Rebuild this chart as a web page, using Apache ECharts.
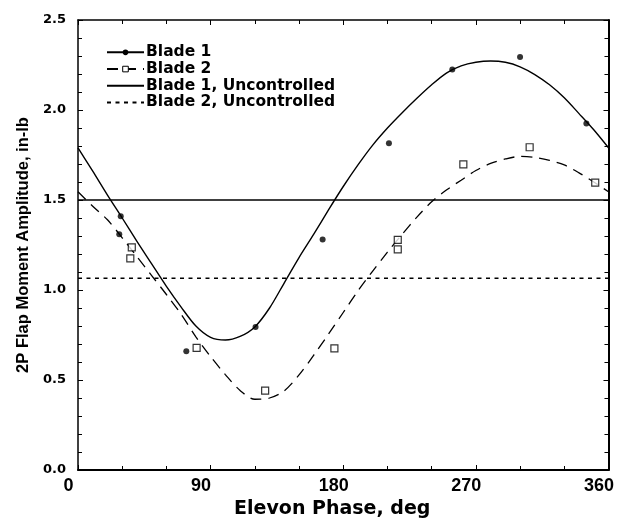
<!DOCTYPE html>
<html>
<head>
<meta charset="utf-8">
<script src="https://cdn.jsdelivr.net/npm/echarts@6/dist/echarts.min.js"></script>
<style>
  html, body { margin: 0; padding: 0; background: #fff; }
  #chart { width: 617px; height: 524px; }
</style>
</head>
<body>
<div id="chart"></div>
<script>
// Phase grid (deg) for the fitted response curves
const phaseGrid = [0, 10, 20, 30, 40, 50, 60, 70, 80, 90, 100, 110, 120, 130, 140, 150, 160, 170, 180,
                   190, 200, 210, 220, 230, 240, 250, 260, 270, 280, 290, 300, 310, 320, 330, 340, 350, 360];

// Fitted 2P flap moment amplitude, in-lb
const blade1Fit = [1.79, 1.66, 1.527, 1.40, 1.27, 1.145, 1.02, 0.905, 0.80, 0.737, 0.722, 0.742, 0.795,
                   0.90, 1.04, 1.18, 1.31, 1.445, 1.575, 1.695, 1.805, 1.90, 1.985, 2.065, 2.14,
                   2.205, 2.245, 2.265, 2.272, 2.265, 2.24, 2.197, 2.14, 2.068, 1.98, 1.89, 1.79];
const blade2Fit = [1.546, 1.465, 1.39, 1.29, 1.185, 1.08, 0.975, 0.865, 0.74, 0.63, 0.53, 0.442, 0.393,
                   0.40, 0.44, 0.528, 0.638, 0.755, 0.875, 0.995, 1.105, 1.21, 1.31, 1.405, 1.49,
                   1.555, 1.61, 1.664, 1.703, 1.728, 1.742, 1.737, 1.72, 1.695, 1.651, 1.60, 1.546];

// Measured points
const blade1Phase = [29, 28, 73.5, 120.5, 166, 211, 254, 300, 345];
const blade1Amp   = [1.41, 1.31, 0.66, 0.795, 1.28, 1.815, 2.225, 2.295, 1.925];
const blade2Phase = [36.5, 35.5, 80.5, 127, 174, 217, 217, 261.5, 306.5, 351];
const blade2Amp   = [1.237, 1.176, 0.678, 0.441, 0.676, 1.278, 1.226, 1.698, 1.793, 1.596];

// Uncontrolled baseline levels
const blade1Uncontrolled = 1.5;
const blade2Uncontrolled = 1.065;

// Axis ranges and labelled ticks
const xTicks = [0, 90, 180, 270, 360];
const yTicks = [0.0, 0.5, 1.0, 1.5, 2.0, 2.5];

const pairs = (xs, ys) => xs.map((x, i) => [x, ys[i]]);
const flat = (level) => [[xTicks[0], level], [xTicks[xTicks.length - 1], level]];

const INK = '#000';

function frameX(position, withLabels) {
  return {
    type: 'value',
    position: position,
    min: xTicks[0],
    max: xTicks[xTicks.length - 1],
    interval: xTicks[1] - xTicks[0],
    axisLine: { show: true, onZero: false, lineStyle: { color: INK, width: position === 'bottom' ? 2 : 1.5 } },
    axisTick: { show: true, inside: true, length: 5, lineStyle: { color: INK, width: 1 } },
    minorTick: { show: true, splitNumber: 3, length: 4, lineStyle: { color: INK, width: 1 } },
    splitLine: { show: false },
    minorSplitLine: { show: false },
    axisLabel: withLabels ? {
      show: true, color: INK, margin: 7,
      fontFamily: 'Liberation Sans', fontWeight: 'bold', fontSize: 18,
      padding: [0, 19, 0, 0]
    } : { show: false },
    name: withLabels ? 'Elevon Phase, deg' : '',
    nameLocation: 'middle',
    nameGap: 28,
    nameTextStyle: {
      color: INK, fontFamily: 'DejaVu Sans', fontWeight: 'bold', fontSize: 19,
      padding: [0, 22, 0, 0]
    }
  };
}

function frameY(position, withLabels) {
  return {
    type: 'value',
    position: position,
    min: yTicks[0],
    max: yTicks[yTicks.length - 1],
    interval: yTicks[1] - yTicks[0],
    axisLine: { show: true, onZero: false, lineStyle: { color: INK, width: position === 'left' ? 1.5 : 2 } },
    axisTick: { show: true, inside: true, length: 5, lineStyle: { color: INK, width: 1 } },
    minorTick: { show: true, splitNumber: 5, length: 4, lineStyle: { color: INK, width: 1 } },
    splitLine: { show: false },
    minorSplitLine: { show: false },
    axisLabel: withLabels ? {
      show: true, color: INK, margin: 12,
      fontFamily: 'DejaVu Sans', fontWeight: 'bold', fontSize: 13,
      padding: [0, 0, 4, 0],
      formatter: (v) => v.toFixed(1)
    } : { show: false },
    name: withLabels ? '2P Flap Moment Amplitude, in-lb' : '',
    nameLocation: 'middle',
    nameGap: 40,
    nameTextStyle: {
      color: INK, fontFamily: 'Liberation Sans', fontWeight: 'bold', fontSize: 16.5
    }
  };
}

const chart = echarts.init(document.getElementById('chart'), null, { renderer: 'canvas' });

chart.setOption({
  animation: false,
  backgroundColor: '#fff',
  grid: { left: 78, right: 7, top: 20, bottom: 54, containLabel: false },
  legend: {
    orient: 'vertical',
    left: 106,
    top: 44,
    padding: 0,
    itemWidth: 37,
    itemHeight: 7,
    itemGap: 0,
    textStyle: {
      color: INK, fontFamily: 'DejaVu Sans', fontWeight: 'bold', fontSize: 15.5,
      lineHeight: 16.7, padding: [0, 0, 0, -3]
    },
    data: [
      { name: 'Blade 1', itemStyle: { color: INK, borderWidth: 0 } },
      { name: 'Blade 2', itemStyle: { color: '#fff', borderColor: INK, borderWidth: 1 } },
      { name: 'Blade 1, Uncontrolled', itemStyle: { opacity: 0 } },
      { name: 'Blade 2, Uncontrolled', itemStyle: { opacity: 0 } }
    ]
  },
  xAxis: [frameX('bottom', true), frameX('top', false)],
  yAxis: [frameY('left', true), frameY('right', false)],
  series: [
    {
      name: 'Blade 1', type: 'line', xAxisIndex: 0, yAxisIndex: 0,
      data: pairs(phaseGrid, blade1Fit),
      smooth: 0.3, symbol: 'circle', showSymbol: false,
      lineStyle: { color: INK, width: 1.4 },
      itemStyle: { color: INK },
      z: 3
    },
    {
      name: 'Blade 2', type: 'line', xAxisIndex: 0, yAxisIndex: 0,
      data: pairs(phaseGrid, blade2Fit),
      smooth: 0.3, symbol: 'rect', showSymbol: false,
      lineStyle: { color: INK, width: 1.3, type: [11, 7] },
      itemStyle: { color: '#fff', borderColor: INK },
      z: 3
    },
    {
      name: 'Blade 1, Uncontrolled', type: 'line',
      data: flat(blade1Uncontrolled),
      symbol: 'none',
      lineStyle: { color: INK, width: 1.5 },
      itemStyle: { color: INK },
      z: 2
    },
    {
      name: 'Blade 2, Uncontrolled', type: 'line',
      data: flat(blade2Uncontrolled),
      symbol: 'none',
      lineStyle: { color: INK, width: 1.5, type: [4, 4.5] },
      itemStyle: { color: INK },
      z: 2
    },
    {
      name: 'Blade 1', type: 'scatter',
      data: pairs(blade1Phase, blade1Amp),
      symbol: 'circle', symbolSize: 6,
      itemStyle: { color: INK },
      z: 4
    },
    {
      name: 'Blade 2', type: 'scatter',
      data: pairs(blade2Phase, blade2Amp),
      symbol: 'rect', symbolSize: 7,
      itemStyle: { color: '#fff', borderColor: INK, borderWidth: 1.2 },
      z: 4
    }
  ]
});
</script>
</body>
</html>
